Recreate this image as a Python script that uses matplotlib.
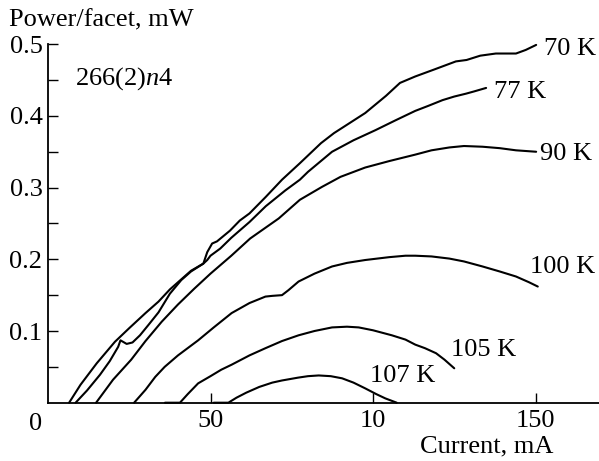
import matplotlib
matplotlib.use("Agg")
import matplotlib.pyplot as plt

# Light output per facet vs. drive current at several heat-sink temperatures
current_70K = [6.5, 10, 15, 20.6, 25, 30, 34, 37.5, 41, 44, 47.8, 49, 50.5, 52, 56, 59,
               62, 67, 72, 77.5, 84, 88, 97.6, 104, 108.3, 113, 119, 125.5, 128.8, 133,
               137.8, 144, 147, 150.2]
power_70K = [0, 0.025, 0.055, 0.085, 0.104, 0.125, 0.141, 0.158, 0.172, 0.184, 0.194,
             0.210, 0.222, 0.225, 0.240, 0.254, 0.264, 0.287, 0.311, 0.334, 0.362, 0.376,
             0.404, 0.428, 0.446, 0.455, 0.465, 0.476, 0.478, 0.484, 0.487, 0.487,
             0.492, 0.499]

current_77K = [8.5, 12, 16, 19, 21.6, 22.3, 24.2, 26, 28.3, 31, 34, 37.5, 41, 44, 47.8,
               49, 50, 51.5, 53, 56.4, 62, 67, 73, 77.5, 80, 87.4, 94, 100.7, 107, 113,
               117, 121.4, 125, 128.6, 131, 134.8]
power_77K = [0, 0.017, 0.039, 0.058, 0.078, 0.087, 0.082, 0.084, 0.094, 0.109, 0.126,
             0.152, 0.171, 0.183, 0.194, 0.199, 0.205, 0.210, 0.215, 0.230, 0.252,
             0.274, 0.296, 0.311, 0.322, 0.350, 0.366, 0.380, 0.394, 0.407, 0.414,
             0.422, 0.427, 0.431, 0.434, 0.439]

current_90K = [14.8, 20, 25.6, 30, 35, 40, 45, 50, 56.4, 62.2, 71, 77.5, 84.3, 90, 97.6,
               105, 113, 118, 123.5, 128, 133.7, 139, 144, 150.2]
power_90K = [0, 0.032, 0.060, 0.086, 0.113, 0.137, 0.159, 0.180, 0.205, 0.229, 0.257,
             0.283, 0.301, 0.315, 0.328, 0.337, 0.346, 0.352, 0.356, 0.358, 0.357,
             0.355, 0.352, 0.350]

current_100K = [26.5, 30, 33, 35.9, 40, 46.2, 51, 56.5, 62, 66.9, 69, 72, 74, 77.1, 82,
                87.4, 92, 97.6, 105, 110, 113, 118, 123.5, 128, 133.7, 139, 144, 148,
                150.7]
power_100K = [0, 0.018, 0.036, 0.050, 0.066, 0.087, 0.105, 0.125, 0.139, 0.148, 0.149,
              0.150, 0.157, 0.169, 0.180, 0.190, 0.195, 0.199, 0.203, 0.205, 0.205,
              0.204, 0.201, 0.197, 0.190, 0.183, 0.176, 0.168, 0.162]

current_105K = [36, 40.6, 43, 46.2, 50, 53.3, 56.5, 62, 66.9, 72, 77.1, 82, 87.4, 92,
                95.6, 100, 105.8, 110, 113, 116, 119.4, 122, 125]
power_105K = [0, 0, 0.012, 0.027, 0.037, 0.046, 0.053, 0.066, 0.076, 0.086, 0.094,
              0.100, 0.105, 0.106, 0.105, 0.101, 0.094, 0.088, 0.081, 0.076, 0.069,
              0.060, 0.048]

current_107K = [51, 55.5, 58, 61, 65, 69, 72, 77, 80, 83.3, 87, 90.5, 94, 97.6, 101,
                103.8, 107.3]
power_107K = [0, 0, 0.007, 0.014, 0.022, 0.028, 0.031, 0.035, 0.037, 0.038, 0.037,
              0.034, 0.028, 0.020, 0.012, 0.006, 0]

temperature_labels = ["70 K", "77 K", "90 K", "100 K", "105 K", "107 K"]
label_x = [152.6, 137.2, 151.4, 148.3, 124.0, 99.1]
label_y = [0.485, 0.4245, 0.3385, 0.1805, 0.0651, 0.0293]

x_ticks = [50, 100, 150]
x_tick_labels = ["50", "10", "150"]
y_ticks = [0.1, 0.2, 0.3, 0.4, 0.5]
y_tick_labels = ["0.1", "0.2", "0.3", "0.4", "0.5"]
y_minor_ticks = [0.05, 0.15, 0.25, 0.35, 0.45]

plt.rcParams["font.family"] = ["Liberation Serif", "DejaVu Serif"]
plt.rcParams["mathtext.fontset"] = "custom"
plt.rcParams["mathtext.rm"] = "Liberation Serif"
plt.rcParams["mathtext.it"] = "Liberation Serif:italic"
FS = 19

W, H = 599, 461
fig = plt.figure(figsize=(W / 100, H / 100), dpi=100)
x0, y0, x1, y1 = 48, 402.7, 600.5, 44.2
ax = fig.add_axes([x0 / W, 1 - y0 / H, (x1 - x0) / W, (y0 - y1) / H])

series = [
    (current_70K, power_70K),
    (current_77K, power_77K),
    (current_90K, power_90K),
    (current_100K, power_100K),
    (current_105K, power_105K),
    (current_107K, power_107K),
]
for cur, pw in series:
    ax.plot(cur, pw, color="black", lw=1.5, solid_joinstyle="round",
            solid_capstyle="round", clip_on=False)

for txt, lx, ly in zip(temperature_labels, label_x, label_y):
    ax.text(lx, ly, txt, fontsize=FS, ha="left", va="baseline")

ax.text(8.3, 0.443, r"266(2)$\mathit{n}$4", fontsize=FS, ha="left", va="baseline")

ax.set_xlim(0, 170)
ax.set_ylim(0, 0.5)
for side in ("top", "right"):
    ax.spines[side].set_visible(False)
for side in ("left", "bottom"):
    ax.spines[side].set_linewidth(1.3)

ax.set_xticks(x_ticks)
ax.set_xticklabels(x_tick_labels)
ax.set_yticks(y_ticks)
ax.set_yticklabels(y_tick_labels)
ax.set_yticks(y_minor_ticks, minor=True)
ax.tick_params(axis="both", which="both", direction="in", length=7.2, width=1.0,
               labelsize=FS, color="black")
ax.tick_params(axis="y", pad=4)
ax.tick_params(axis="x", pad=5)

# origin label sits left of the corner
ax.annotate("0", xy=(0, 0), xycoords="data", xytext=(-8.6, -19.3),
            textcoords="offset points", fontsize=FS, ha="center", va="baseline")

fig.text(9 / W, 1 - 26 / H, "Power/facet, mW", fontsize=FS, ha="left", va="baseline")
fig.text(553 / W, 1 - 452 / H, "Current, mA", fontsize=FS, ha="right", va="baseline")

fig.savefig("out.png", dpi=100)
